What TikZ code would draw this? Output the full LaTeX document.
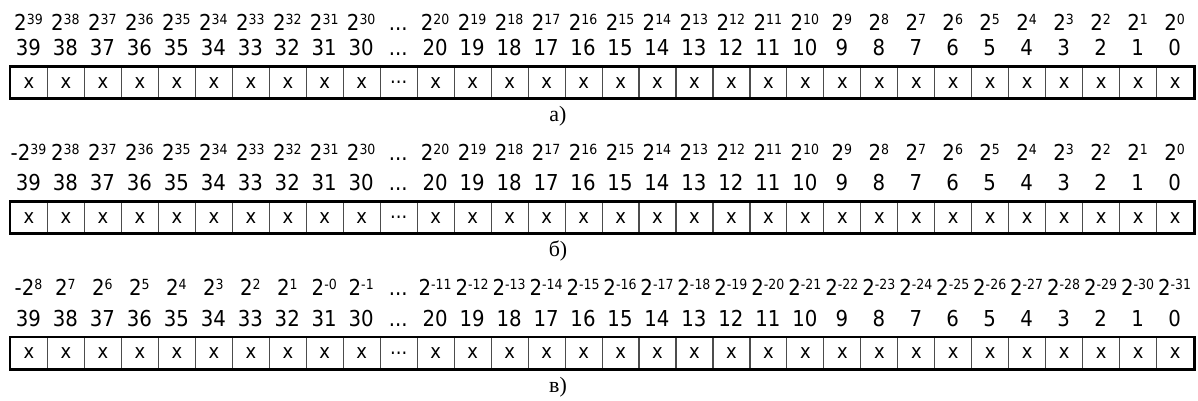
\documentclass[tikz,border=0pt]{standalone}
\usepackage{fontspec}
\setmainfont{DejaVu Sans Condensed}
\newfontfamily\capfont{Liberation Serif}
\newcommand\twopow[1]{2\raisebox{6bp}{\fontsize{14}{14}\selectfont#1}}
\begin{document}
\begin{tikzpicture}[x=1bp,y=-1bp,
  lbl/.style={anchor=base, inner sep=0pt, font=\fontsize{22}{22}\selectfont},
  cellbox/.style={draw=black!70, line width=1.1bp, minimum width=36.97bp, minimum height=31bp,
    inner sep=0pt, anchor=north west, font=\fontsize{20}{20}\selectfont},
  framebox/.style={draw=black, line width=2.8bp},
  captxt/.style={anchor=base, inner sep=0pt, font=\capfont\fontsize{22}{22}\selectfont}]
\useasboundingbox (0,0) rectangle (1198,400);
\foreach \s/\T/\P/\cap in {0/66.5/30/а), 1/201.5/160/б), 2/337/295.5/в)} {
  \foreach \i in {0,...,31} {
    \pgfmathsetmacro\xl{10+36.97*\i}
    \pgfmathsetmacro\xc{10+36.97*(\i+0.5)}
    \pgfmathtruncatemacro\idx{\i<10 ? 39-\i : 31-\i}
    \pgfmathtruncatemacro\ex{\idx-31}
    \ifnum\i=10
      \def\itxt{...}\def\ptxt{...}\def\ctxt{...}
    \else
      \edef\itxt{\idx}\def\ctxt{x}
      \ifcase\s
        \def\ptxt{\twopow{\idx}}
      \or
        \ifnum\i=0 \def\ptxt{-\twopow{39}}\else\def\ptxt{\twopow{\idx}}\fi
      \or
        \ifnum\i=0 \def\ptxt{-\twopow{8}}\else
          \ifnum\ex=0 \def\ptxt{\twopow{-0}}\else\def\ptxt{\twopow{\ex}}\fi
        \fi
      \fi
    \fi
    \node[cellbox] (cell-\s-\i) at (\xl,\T) {\ctxt};
    \node[lbl] (idx-\s-\i) at (\xc,\T-11) {\itxt};
    \node[lbl] (pow-\s-\i) at (\xc,\P) {\ptxt};
  }
  \draw[framebox] (cell-\s-0.north west) rectangle (cell-\s-31.south east);
  \node[captxt] (cap-\s) at (558,\T+55) {\cap};
}
\end{tikzpicture}
\end{document}
